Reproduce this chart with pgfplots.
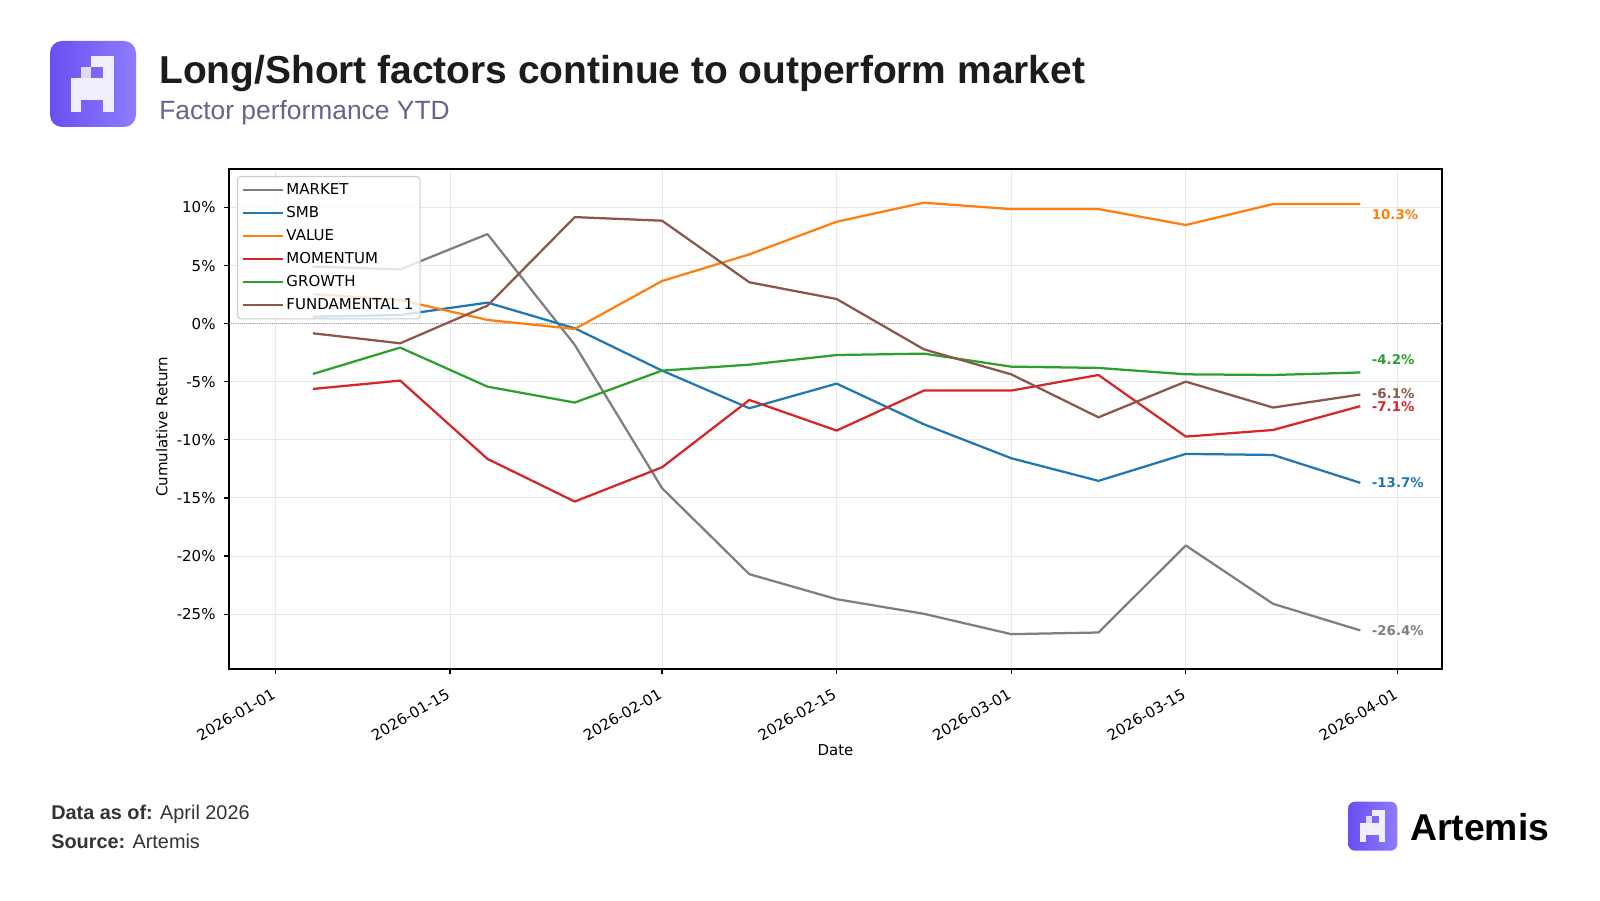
\documentclass[border=0pt]{standalone}
\usepackage{fontspec}
\setmainfont{DejaVu Sans}
\newfontfamily\artfont{Liberation Sans}
\usepackage{graphicx}
\usepackage{pgfplots}
\pgfplotsset{compat=1.18}

\definecolor{cmarket}{HTML}{7F7F7F}
\definecolor{csmb}{HTML}{1F77B4}
\definecolor{cvalue}{HTML}{FF7F0E}
\definecolor{cmom}{HTML}{D62728}
\definecolor{cgrowth}{HTML}{2CA02C}
\definecolor{cfund}{HTML}{8C564B}
\definecolor{gridc}{HTML}{E8E8E8}
\definecolor{zeroc}{HTML}{A0A0A0}
\definecolor{legc}{HTML}{CCCCCC}
\definecolor{titlec}{HTML}{1C1C1E}
\definecolor{subc}{HTML}{64648C}
\definecolor{footc}{HTML}{333333}
\definecolor{logoL}{RGB}{104,80,240}
\definecolor{logoR}{RGB}{142,124,255}
\definecolor{logoW}{RGB}{241,239,252}
\definecolor{logoS}{RGB}{222,219,245}

% logo: x, y (top left, px), scale, corner radius
\newcommand{\artlogo}[4]{%
  \begin{scope}[shift={(#1,#2)}, scale=#3]
    \shade[left color=logoL, right color=logoR, rounded corners=#4] (0,0) rectangle (86,86);
    \fill[logoW] (40.7,15) rectangle (64,25.7);
    \fill[logoW] (53.3,25.7) rectangle (64,37.3);
    \fill[logoS] (30.7,25.7) rectangle (40.7,37.3);
    \fill[logoW] (20.7,37.3) rectangle (64,59);
    \fill[logoW] (20.7,59) rectangle (31,70.7);
    \fill[logoW] (53.3,59) rectangle (64,70.7);
  \end{scope}}

\begin{document}
\begin{tikzpicture}
\fill[white] (0,0) rectangle (1200pt,675pt);

\begin{axis}[
  at={(171.75pt,173.25pt)}, anchor=south west,
  scale only axis, width=909.75pt, height=375pt,
  xmin=-3.73, xmax=93.55, ymin=-29.72, ymax=13.31,
  xtick={0,14,31,45,59,73,90},
  xticklabels={2026-01-01,2026-01-15,2026-02-01,2026-02-15,2026-03-01,2026-03-15,2026-04-01},
  ytick={-25,-20,-15,-10,-5,0,5,10},
  yticklabels={-25\%,-20\%,-15\%,-10\%,-5\%,0\%,5\%,10\%},
  xtick pos=left, ytick pos=left,
  tick align=outside, major tick length=3.9pt,
  tick style={black, line width=0.9pt},
  axis line style={black, line width=0.9pt},
  grid=major, grid style={gridc, line width=0.8pt},
  tick label style={font=\fontsize{11.25}{13}\selectfont, inner sep=0pt},
  xticklabel style={rotate=30, anchor=north east, xshift=-8pt, yshift=-7pt},
  yticklabel style={anchor=east, xshift=-6pt},
  xlabel={Date}, ylabel={Cumulative Return},
  label style={font=\fontsize{11.25}{13}\selectfont},
  xlabel style={at={(axis description cs:0.5,-0.162)}, anchor=center},
  ylabel style={at={(axis description cs:-0.0555,0.4846)}, anchor=center},
  clip=false,
  every axis plot/.append style={line width=1.69pt, line join=round},
  legend cell align=left,
  legend image code/.code={\draw[#1] (0pt,0pt) -- (24pt,0pt); \path (0pt,0pt) -- (30pt,0pt);},
  legend style={at={(0.0066,0.986)}, anchor=north west,
    draw=legc, line width=0.8pt, rounded corners=2.5pt,
    fill=white, fill opacity=0.8, text opacity=1,
    font=\fontsize{11.25}{13}\selectfont,
    inner xsep=3pt, inner ysep=4pt, row sep=4.75pt,
    nodes={inner xsep=2pt, inner ysep=1pt, text height=8.2pt, text depth=2.3pt}},
]
\addplot[forget plot, zeroc, line width=0.7pt, dash pattern=on 0.8pt off 0.8pt]
  coordinates {(-3.73,0)(93.55,0)};

\addplot[cmarket] coordinates {
  (3,4.9)(10,4.67)(17,7.71)(24,-1.83)(31,-14.16)(38,-21.56)(45,-23.71)
  (52,-24.97)(59,-26.72)(66,-26.58)(73,-19.09)(80,-24.11)(87,-26.4)};
\addlegendentry{MARKET}
\addplot[csmb] coordinates {
  (3,0.6)(10,0.74)(17,1.81)(24,-0.40)(31,-4.04)(38,-7.28)(45,-5.16)
  (52,-8.66)(59,-11.58)(66,-13.53)(73,-11.21)(80,-11.3)(87,-13.7)};
\addlegendentry{SMB}
\addplot[cvalue] coordinates {
  (3,2.55)(10,2.04)(17,0.32)(24,-0.46)(31,3.67)(38,5.96)(45,8.77)
  (52,10.41)(59,9.86)(66,9.86)(73,8.49)(80,10.29)(87,10.3)};
\addlegendentry{VALUE}
\addplot[cmom] coordinates {
  (3,-5.62)(10,-4.90)(17,-11.64)(24,-15.31)(31,-12.36)(38,-6.57)(45,-9.20)
  (52,-5.76)(59,-5.76)(66,-4.42)(73,-9.72)(80,-9.15)(87,-7.1)};
\addlegendentry{MOMENTUM}
\addplot[cgrowth] coordinates {
  (3,-4.33)(10,-2.06)(17,-5.42)(24,-6.79)(31,-4.04)(38,-3.53)(45,-2.70)
  (52,-2.58)(59,-3.70)(66,-3.81)(73,-4.36)(80,-4.42)(87,-4.2)};
\addlegendentry{GROWTH}
\addplot[cfund] coordinates {
  (3,-0.83)(10,-1.69)(17,1.55)(24,9.17)(31,8.86)(38,3.56)(45,2.12)
  (52,-2.21)(59,-4.36)(66,-8.06)(73,-4.99)(80,-7.22)(87,-6.1)};
\addlegendentry{FUNDAMENTAL 1}

% end-of-line value labels
\begin{scope}[every node/.style={anchor=west, inner sep=0pt, xshift=8.5pt,
    font=\bfseries\fontsize{10}{12}\selectfont}]
  \node[text=cvalue]  at (axis cs:87,9.41)   {10.3\%};
  \node[text=cgrowth] at (axis cs:87,-3.12)  {-4.2\%};
  \node[text=cfund]   at (axis cs:87,-6.05)  {-6.1\%};
  \node[text=cmom]    at (axis cs:87,-7.1)   {-7.1\%};
  \node[text=csmb]    at (axis cs:87,-13.7)  {-13.7\%};
  \node[text=cmarket] at (axis cs:87,-26.4)  {-26.4\%};
\end{scope}
\end{axis}

% header and footer, in pixel units of the 1600x900 image (y downwards)
\begin{scope}[x=0.75pt, y=-0.75pt, shift={(0pt,675pt)}]
  \artlogo{50}{41}{1}{9pt}
  \node[anchor=base west, inner sep=0pt, text=titlec] at (159,83.7)
    {\artfont\bfseries\fontsize{29.2}{34}\selectfont Long/Short factors continue to outperform market};
  \node[anchor=base west, inner sep=0pt, text=subc] at (159,119.4)
    {\artfont\fontsize{19.8}{24}\selectfont Factor performance YTD};
  \node[anchor=base west, inner sep=0pt, text=footc] at (51,819.3)
    {\artfont\fontsize{14.9}{17}\selectfont\textbf{Data as of:} April 2026};
  \node[anchor=base west, inner sep=0pt, text=footc] at (51,848.3)
    {\artfont\fontsize{14.9}{17}\selectfont\textbf{Source:} Artemis};
  \artlogo{1348.3}{801.7}{0.57}{5pt}
  \node[anchor=base west, inner sep=0pt, text=black] at (1410,840)
    {\artfont\bfseries\fontsize{28}{32}\selectfont Artemis};
\end{scope}

\pgfresetboundingbox
\useasboundingbox (0,0) rectangle (1200pt,675pt);
\end{tikzpicture}
\end{document}
